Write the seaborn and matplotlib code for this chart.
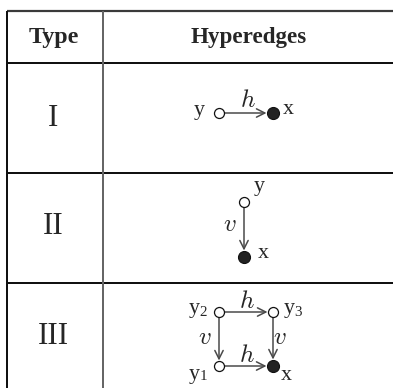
import matplotlib
matplotlib.use("Agg")
import matplotlib.pyplot as plt
import seaborn as sns
from matplotlib.patches import FancyArrowPatch

sns.set_style("white")
plt.rcParams['font.family'] = ['Liberation Serif', 'DejaVu Serif']
plt.rcParams['mathtext.fontset'] = 'cm'

# ---- table content ----
headers = ["Type", "Hyperedges"]
types = ["I", "II", "III"]

# hyperedge diagrams: nodes (name, label, subscript, filled) and edges (src, dst, label)
row1_nodes = [("y", "y", "", False), ("x", "x", "", True)]
row1_edges = [("y", "x", "h")]
row2_nodes = [("y", "y", "", False), ("x", "x", "", True)]
row2_edges = [("y", "x", "v")]
row3_nodes = [("y2", "y", "2", False), ("y3", "y", "3", False),
              ("y1", "y", "1", False), ("x", "x", "", True)]
row3_edges = [("y2", "y3", "h"), ("y1", "x", "h"), ("y2", "y1", "v"), ("y3", "x", "v")]

W, H = 393, 388
fig = plt.figure(figsize=(W / 100, H / 100), dpi=100)
ax = fig.add_axes([0, 0, 1, 1])
ax.set_xlim(0, W)
ax.set_ylim(H, 0)
ax.axis("off")

PT = 0.72  # px -> pt at dpi 100

# ---- table grid ----
ax.plot([7, W], [11, 11], color="#3a3a3a", lw=2.2 * PT, solid_capstyle="butt")
for yy in (63, 173, 283):
    ax.plot([7, W], [yy, yy], color="#111111", lw=2.0 * PT, solid_capstyle="butt")
ax.plot([7, 7], [11, H], color="#111111", lw=2.0 * PT, solid_capstyle="butt")
ax.plot([103, 103], [11, H], color="#666666", lw=2.0 * PT, solid_capstyle="butt")

# headers
ax.text(54, 38, headers[0], ha="center", va="center", fontsize=24 * PT, fontweight="bold")
ax.text(249, 38, headers[1], ha="center", va="center", fontsize=23 * PT, fontweight="bold")

# type labels
for t, yc in zip(types, (118, 227, 337)):
    ax.text(53, yc, t, ha="center", va="center", fontsize=31 * PT)

# ---- diagrams ----
R_OPEN, R_FILL = 5.0, 6.0
LAB = 22 * PT
SUB = 15 * PT
ELAB = 25 * PT


def draw_diagram(nodes, edges, pos, label_pos, edge_label_pos):
    info = {n[0]: n for n in nodes}
    for (a, b, lab) in edges:
        xa, ya = pos[a]
        xb, yb = pos[b]
        ra = R_FILL if info[a][3] else R_OPEN
        rb = R_FILL if info[b][3] else R_OPEN
        dx, dy = xb - xa, yb - ya
        d = (dx ** 2 + dy ** 2) ** 0.5
        ux, uy = dx / d, dy / d
        arr = FancyArrowPatch((xa + ux * ra, ya + uy * ra), (xb - ux * (rb + 0.5), yb - uy * (rb + 0.5)),
                              arrowstyle="->,head_length=6,head_width=3",
                              color="#4a4a4a", lw=1.1, shrinkA=0, shrinkB=0,
                              mutation_scale=1)
        ax.add_patch(arr)
        lx, ly = edge_label_pos[(a, b)]
        ax.text(lx, ly, "$" + lab + "$", ha="center", va="center", fontsize=ELAB)
    for (name, lab, sub, filled) in nodes:
        x, y = pos[name]
        if filled:
            ax.scatter([x], [y], s=(2 * R_FILL * PT) ** 2, color="#222222",
                       edgecolors="#111111", linewidths=0.8, zorder=5)
        else:
            ax.scatter([x], [y], s=(2 * R_OPEN * PT) ** 2, color="white",
                       edgecolors="#111111", linewidths=0.9, zorder=5)
        lx, ly = label_pos[name]
        ax.text(lx, ly, lab, ha="center", va="center", fontsize=LAB)
        if sub:
            ax.text(lx + 9, ly + 3, sub, ha="center", va="center", fontsize=SUB)


# Row I
draw_diagram(row1_nodes, row1_edges,
             pos={"y": (219, 113), "x": (273, 113)},
             label_pos={"y": (199, 110), "x": (288, 110)},
             edge_label_pos={("y", "x"): (248, 101)})
# Row II
draw_diagram(row2_nodes, row2_edges,
             pos={"y": (244, 202), "x": (244, 257)},
             label_pos={"y": (259, 187), "x": (263, 254)},
             edge_label_pos={("y", "x"): (230, 225)})
# Row III
draw_diagram(row3_nodes, row3_edges,
             pos={"y2": (219, 312), "y3": (273, 312), "y1": (219, 366), "x": (273, 366)},
             label_pos={"y2": (194, 309), "y3": (289, 309), "y1": (194, 374), "x": (286, 376)},
             edge_label_pos={("y2", "y3"): (247, 302), ("y1", "x"): (247, 356),
                             ("y2", "y1"): (205, 338), ("y3", "x"): (280, 338)})

fig.savefig("out.png", dpi=100)
